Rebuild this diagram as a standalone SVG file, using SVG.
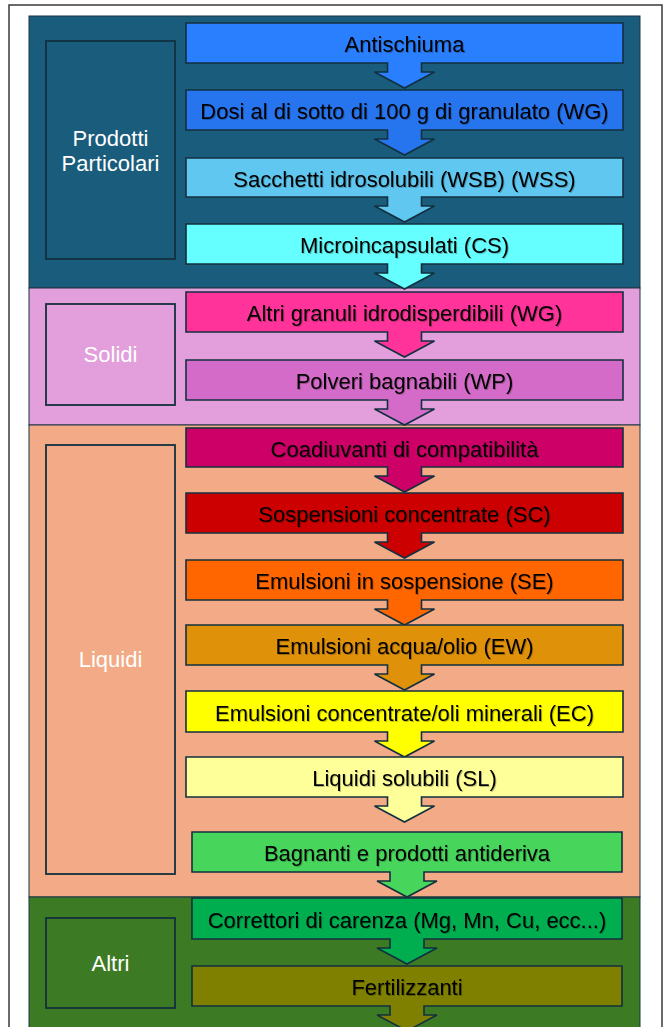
<svg xmlns="http://www.w3.org/2000/svg" width="666" height="1027" viewBox="0 0 666 1027">
<defs>
<style>
.sec{stroke:#1c3444;stroke-width:1}
.lbl{fill:none;stroke:#12303f;stroke-width:1.8}
.lt{font-family:"Liberation Sans",Arial,sans-serif;font-size:22px;fill:#ffffff;text-anchor:middle}
.bar{stroke:#12303f;stroke-width:1.6;stroke-linejoin:miter}
.bt{font-family:"Liberation Sans",Arial,sans-serif;font-size:22px;fill:#000000;text-anchor:middle;filter:url(#sh)}
</style>
<filter id="sh" x="-10%" y="-30%" width="120%" height="160%">
<feDropShadow dx="1" dy="1" stdDeviation="0.7" flood-color="#000" flood-opacity="0.25"/>
</filter>
</defs>
<rect x="0" y="0" width="666" height="1027" fill="#ffffff"/>
<rect x="9" y="5" width="653" height="1040" fill="#ffffff" stroke="#3a3a3a" stroke-width="1.5"/>

<g id="section-prodotti">
<rect class="sec" x="29" y="16" width="611" height="272" fill="#1A5C7B"/>
<rect class="lbl" x="46" y="41" width="129" height="218"/>
<text class="lt" x="110.5" y="146">Prodotti</text>
<text class="lt" x="110.5" y="171">Particolari</text>
</g>
<g id="section-solidi">
<rect class="sec" x="29" y="288" width="611" height="137" fill="#E39FDB"/>
<rect class="lbl" x="46" y="304" width="129" height="101"/>
<text class="lt" x="110.5" y="362">Solidi</text>
</g>
<g id="section-liquidi">
<rect class="sec" x="29" y="425" width="611" height="472" fill="#F2AB86"/>
<rect class="lbl" x="46" y="445" width="129" height="429"/>
<text class="lt" x="110.5" y="667">Liquidi</text>
</g>
<g id="section-altri">
<rect class="sec" x="29" y="897" width="611" height="140" fill="#3C7B24"/>
<rect class="lbl" x="46" y="918" width="129" height="90"/>
<text class="lt" x="110.5" y="971">Altri</text>
</g>

<g id="connectors"></g>

<g id="n-antischiuma">
<path class="bar" fill="#2A7FFE" d="M186 23 H623 V63 H421.5 V72 H434.5 L404.5 88 L374.5 72 H387.5 V63 H186 Z"/>
<text class="bt" x="404.5" y="52">Antischiuma</text>
</g>
<g id="n-dosi">
<path class="bar" fill="#2674EE" d="M186 90 H623 V130 H421.5 V139 H434.5 L404.5 155 L374.5 139 H387.5 V130 H186 Z"/>
<text class="bt" x="404.5" y="119">Dosi al di sotto di 100 g di granulato (WG)</text>
</g>
<g id="n-sacchetti">
<path class="bar" fill="#60C8F0" d="M186 158 H623 V197 H421.5 V206 H434.5 L404.5 222 L374.5 206 H387.5 V197 H186 Z"/>
<text class="bt" x="404.5" y="186.5">Sacchetti idrosolubili (WSB) (WSS)</text>
</g>
<g id="n-micro">
<path class="bar" fill="#66FFFF" d="M186 224 H623 V264 H421.5 V273 H434.5 L404.5 289 L374.5 273 H387.5 V264 H186 Z"/>
<text class="bt" x="404.5" y="253">Microincapsulati (CS)</text>
</g>
<g id="n-granuli">
<path class="bar" fill="#FF3399" d="M186 292 H623 V332 H421.5 V341 H434.5 L404.5 357 L374.5 341 H387.5 V332 H186 Z"/>
<text class="bt" x="404.5" y="321">Altri granuli idrodisperdibili (WG)</text>
</g>
<g id="n-polveri">
<path class="bar" fill="#D56BC9" d="M186 360 H623 V400 H421.5 V409 H434.5 L404.5 425 L374.5 409 H387.5 V400 H186 Z"/>
<text class="bt" x="404.5" y="389">Polveri bagnabili (WP)</text>
</g>
<g id="n-coadiuvanti">
<path class="bar" fill="#CC0066" d="M186 428 H623 V467 H421.5 V476 H434.5 L404.5 492 L374.5 476 H387.5 V467 H186 Z"/>
<text class="bt" x="404.5" y="456.5">Coadiuvanti di compatibilità</text>
</g>
<g id="n-sc">
<path class="bar" fill="#CC0000" d="M186 493 H623 V533 H421.5 V542 H434.5 L404.5 558 L374.5 542 H387.5 V533 H186 Z"/>
<text class="bt" x="404.5" y="522">Sospensioni concentrate (SC)</text>
</g>
<g id="n-se">
<path class="bar" fill="#FF6600" d="M186 560 H623 V600 H421.5 V609 H434.5 L404.5 625 L374.5 609 H387.5 V600 H186 Z"/>
<text class="bt" x="404.5" y="589">Emulsioni in sospensione (SE)</text>
</g>
<g id="n-ew">
<path class="bar" fill="#E0910A" d="M186 625 H623 V665 H421.5 V674 H434.5 L404.5 690 L374.5 674 H387.5 V665 H186 Z"/>
<text class="bt" x="404.5" y="654">Emulsioni acqua/olio (EW)</text>
</g>
<g id="n-ec">
<path class="bar" fill="#FFFF00" d="M186 691 H623 V732 H421.5 V741 H434.5 L404.5 757 L374.5 741 H387.5 V732 H186 Z"/>
<text class="bt" x="404.5" y="720.5">Emulsioni concentrate/oli minerali (EC)</text>
</g>
<g id="n-sl">
<path class="bar" fill="#FFFF99" d="M186 757 H623 V797 H421.5 V806 H434.5 L404.5 822 L374.5 806 H387.5 V797 H186 Z"/>
<text class="bt" x="404.5" y="786">Liquidi solubili (SL)</text>
</g>
<g id="n-bagnanti">
<path class="bar" fill="#47D65B" d="M192 832 H622 V872 H424 V881 H437 L407 897 L377 881 H390 V872 H192 Z"/>
<text class="bt" x="407" y="861">Bagnanti e prodotti antideriva</text>
</g>
<g id="n-correttori">
<path class="bar" fill="#00AE50" d="M192 898 H622 V939 H424 V948 H437 L407 964 L377 948 H390 V939 H192 Z"/>
<text class="bt" x="407" y="927.5">Correttori di carenza (Mg, Mn, Cu, ecc...)</text>
</g>
<g id="n-fertilizzanti">
<path class="bar" fill="#808000" d="M192 966 H622 V1006 H424 V1015 H437 L407 1031 L377 1015 H390 V1006 H192 Z"/>
<text class="bt" x="407" y="995">Fertilizzanti</text>
</g>
</svg>
